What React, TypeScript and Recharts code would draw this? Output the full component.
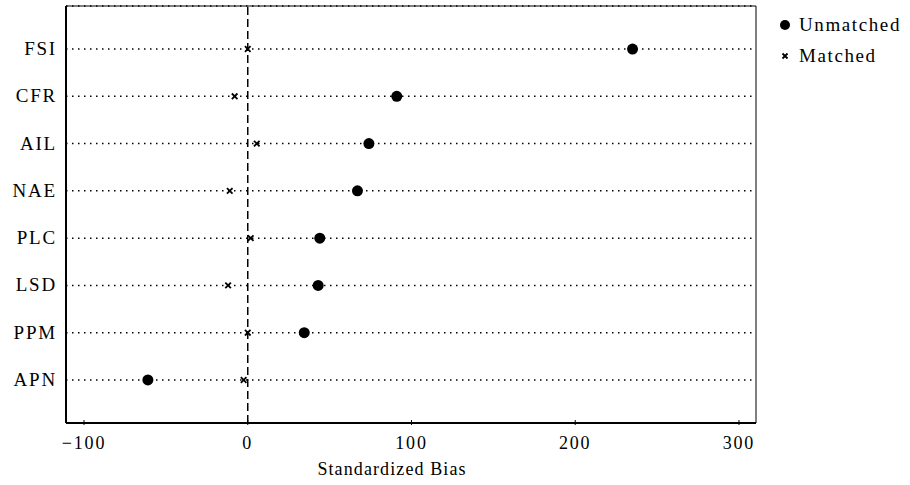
import React from 'react';
import { ScatterChart, Scatter, XAxis, YAxis, CartesianGrid, ReferenceLine, Legend } from 'recharts';

const categories = ['APN', 'PPM', 'LSD', 'PLC', 'NAE', 'AIL', 'CFR', 'FSI'];
const unmatched = [-61, 34.5, 43, 44, 67, 74, 91, 235];
const matched = [-2.5, 0, -12, 1.8, -11, 5.5, -8, 0];
const xTicks = [-100, 0, 100, 200, 300];

const X_MIN = -111;
const X_MAX = 310.4;
const Y_MIN = 0.09;
const Y_MAX = 8.91;

const unmatchedData = categories.map((c, i) => ({ x: unmatched[i], y: i + 1, name: c }));
const matchedData = categories.map((c, i) => ({ x: matched[i], y: i + 1, name: c }));

const FONT = '"Liberation Serif", "Times New Roman", serif';

const Dot = (props: any) => <circle cx={props.cx} cy={props.cy} r={5.5} fill="#000" />;

const Cross = (props: any) => {
  const { cx, cy } = props;
  const s = 2.8;
  return (
    <g stroke="#000" strokeWidth={1.8}>
      <line x1={cx - s} y1={cy - s} x2={cx + s} y2={cy + s} />
      <line x1={cx - s} y1={cy + s} x2={cx + s} y2={cy - s} />
    </g>
  );
};

const XTick = (props: any) => {
  const { x, y, payload } = props;
  const v = payload.value;
  const label = v < 0 ? '\u2212' + Math.abs(v) : String(v);
  return (
    <g>
      <line x1={x} y1={y} x2={x} y2={y - 5} stroke="#000" strokeWidth={1} />
      <text x={x} y={y + 24} textAnchor="middle" fontFamily={FONT} fontSize={18} letterSpacing={1.8} fill="#000">
        {label}
      </text>
    </g>
  );
};

const YTick = (props: any) => {
  const { x, y, payload } = props;
  return (
    <text x={x} y={y + 6} textAnchor="end" fontFamily={FONT} fontSize={19} letterSpacing={1.8} fill="#000">
      {categories[payload.value - 1]}
    </text>
  );
};

const AxisTitle = (props: any) => {
  const { viewBox } = props;
  return (
    <text
      x={viewBox.x + viewBox.width / 2 - 19}
      y={viewBox.y + 52}
      textAnchor="middle"
      fontFamily={FONT}
      fontSize={18}
      letterSpacing={1.1}
      fill="#000"
    >
      Standardized Bias
    </text>
  );
};

const LegendBox = () => (
  <div style={{ fontFamily: FONT, fontSize: 19, letterSpacing: 1.6, color: '#000', lineHeight: '31px' }}>
    <div style={{ display: 'flex', alignItems: 'center' }}>
      <svg width={14} height={14} style={{ marginRight: 7 }}>
        <circle cx={7} cy={7} r={5} fill="#000" />
      </svg>
      Unmatched
    </div>
    <div style={{ display: 'flex', alignItems: 'center' }}>
      <svg width={14} height={14} style={{ marginRight: 7 }}>
        <g stroke="#000" strokeWidth={1.8}>
          <line x1={4.5} y1={4.5} x2={9.5} y2={9.5} />
          <line x1={4.5} y1={9.5} x2={9.5} y2={4.5} />
        </g>
      </svg>
      Matched
    </div>
  </div>
);

export default function App() {
  return (
    <div style={{ position: 'absolute', left: 0, top: 0, background: '#fff', fontFamily: FONT }}>
      <ScatterChart width={910} height={485} margin={{ top: 6, right: 154, bottom: 0, left: 0 }} style={{ fontFamily: FONT }}>
        <CartesianGrid vertical={false} stroke="#000" strokeDasharray="1.5 4.5" strokeWidth={1.5} />
        <XAxis
          type="number"
          dataKey="x"
          domain={[X_MIN, X_MAX]}
          ticks={xTicks}
          allowDataOverflow
          height={62}
          tickSize={0}
          tickLine={false}
          axisLine={{ stroke: '#000', strokeWidth: 2 }}
          tick={<XTick />}
          label={<AxisTitle />}
        />
        <YAxis
          type="number"
          dataKey="y"
          domain={[Y_MIN, Y_MAX]}
          ticks={[1, 2, 3, 4, 5, 6, 7, 8]}
          allowDataOverflow
          width={66}
          tickSize={0}
          tickMargin={9}
          tickLine={false}
          axisLine={{ stroke: '#000', strokeWidth: 2 }}
          tick={<YTick />}
        />
        <ReferenceLine y={Y_MAX} stroke="#000" strokeWidth={1} />
        <ReferenceLine x={X_MAX} stroke="#000" strokeWidth={1} />
        <ReferenceLine x={0} stroke="#000" strokeWidth={1.5} strokeDasharray="8 4" />
        <Legend
          layout="vertical"
          align="center"
          verticalAlign="middle"
          content={<LegendBox />}
          wrapperStyle={{ top: 9, left: 778, width: 132 }}
        />
        <Scatter name="Unmatched" data={unmatchedData} shape={<Dot />} isAnimationActive={false} />
        <Scatter name="Matched" data={matchedData} shape={<Cross />} isAnimationActive={false} />
      </ScatterChart>
    </div>
  );
}
